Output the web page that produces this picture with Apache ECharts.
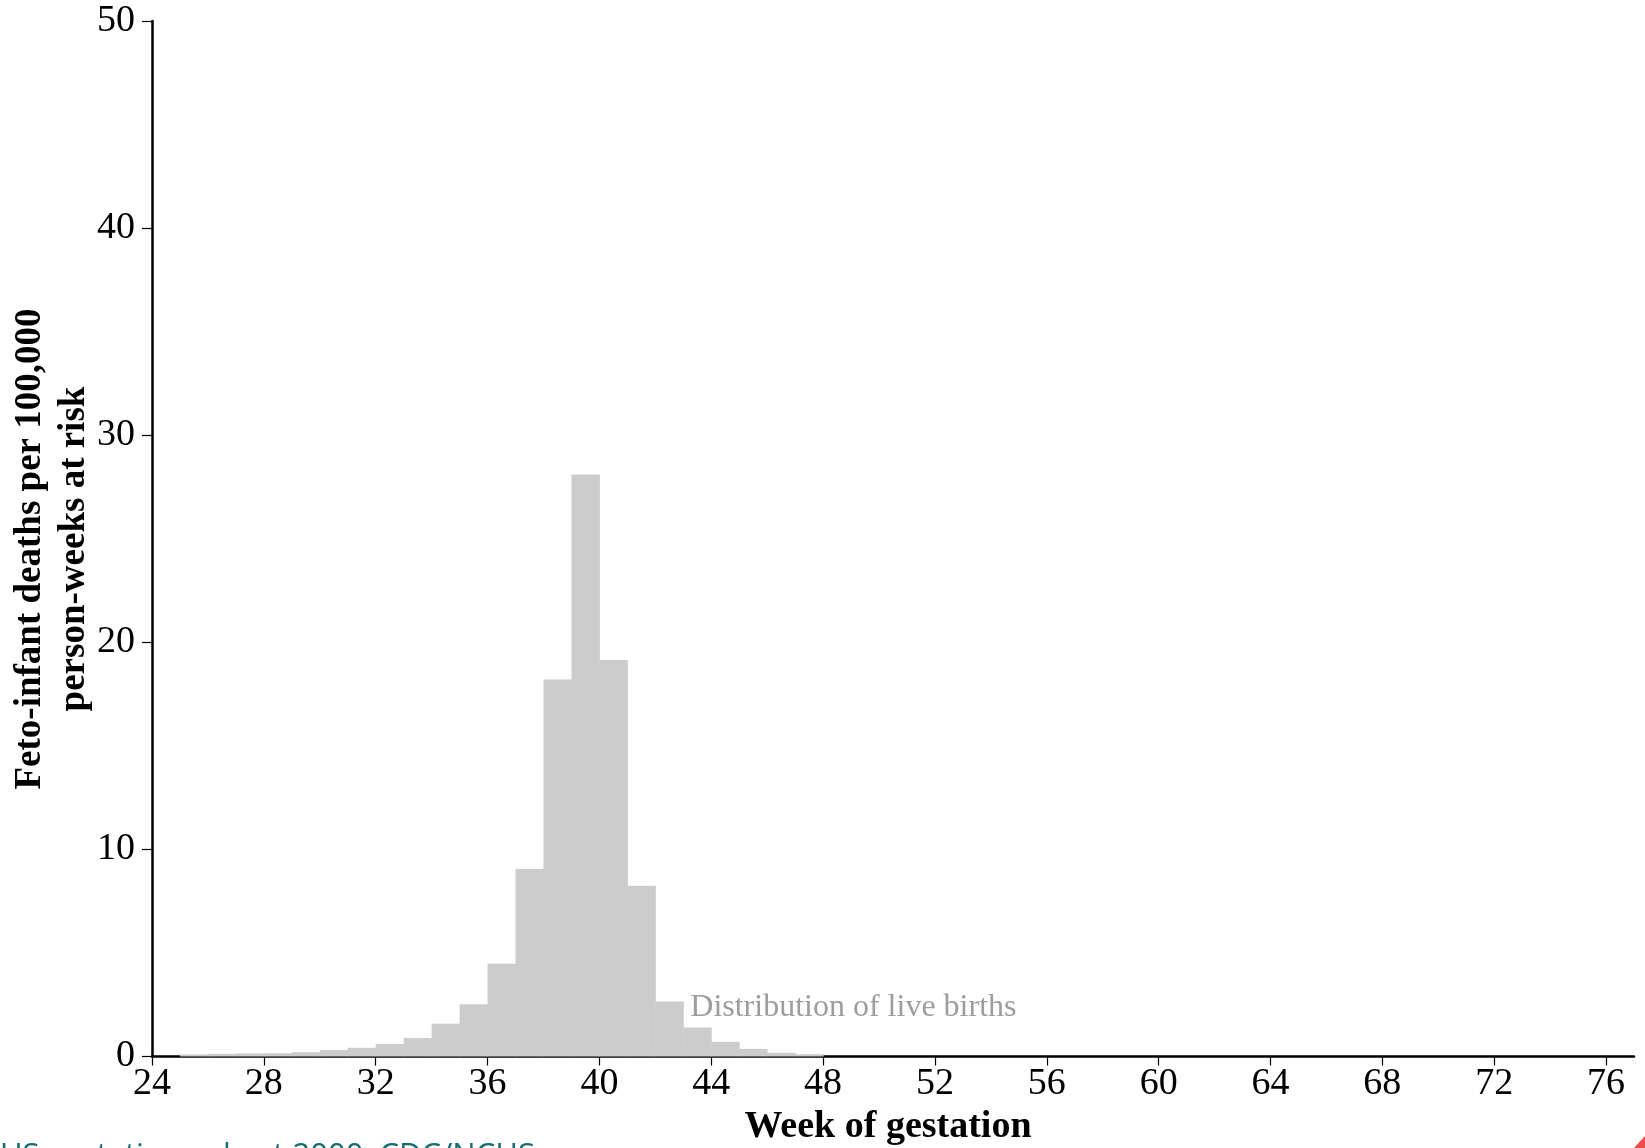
<!DOCTYPE html>
<html>
<head>
<meta charset="utf-8">
<script src="https://cdn.jsdelivr.net/npm/echarts@6/dist/echarts.min.js"></script>
<style>
html,body{margin:0;padding:0;background:#fff;}
#chart{width:1645px;height:1148px;}
</style>
</head>
<body>
<div id="chart"></div>
<script>
// Week of gestation at which each bin starts (bins are one week wide)
const weekStarts = [25,26,27,28,29,30,31,32,33,34,35,36,37,38,39,40,41,42,43,44,45,46,47];
// Distribution of live births (height per bin)
const birthValues = [0.10,0.13,0.15,0.16,0.21,0.31,0.42,0.60,0.89,1.58,2.52,4.48,9.05,18.2,28.1,19.15,8.25,2.66,1.40,0.71,0.37,0.18,0.11];
const xTicks = [24,28,32,36,40,44,48,52,56,60,64,68,72,76];
const yTicks = [0,10,20,30,40,50];
const annotation = {x: 43.25, y: 2.35, text: 'Distribution of live births'};
const xTitle = 'Week of gestation';
const yTitleLines = ['Feto-infant deaths per 100,000', 'person-weeks at risk'];
const sourceText = 'US gestation cohort 2000, CDC/NCHS';

const serif = '"Liberation Serif","Times New Roman",serif';
const chart = echarts.init(document.getElementById('chart'));
const binData = weekStarts.map((w, i) => [w, birthValues[i]]);

chart.setOption({
  animation: false,
  backgroundColor: '#ffffff',
  grid: {left: 152, right: 11, top: 21, bottom: 91.5, containLabel: false},
  xAxis: {
    type: 'value', min: 24, max: 77, interval: 4,
    axisLine: {show: true, lineStyle: {color: '#000', width: 2.5}},
    axisTick: {show: true, length: 9, lineStyle: {color: '#000', width: 1.2}, customValues: xTicks},
    axisLabel: {fontFamily: serif, fontSize: 38, color: '#000', margin: 9, customValues: xTicks},
    splitLine: {show: false}
  },
  yAxis: {
    type: 'value', min: 0, max: 50, interval: 10,
    axisLine: {show: true, lineStyle: {color: '#000', width: 2.5}},
    axisTick: {show: true, length: 10, lineStyle: {color: '#000', width: 1.2}, customValues: yTicks},
    axisLabel: {fontFamily: serif, fontSize: 38, color: '#000', margin: 17, customValues: yTicks},
    splitLine: {show: false}
  },
  series: [
    {
      type: 'custom',
      data: binData,
      encode: {x: 0, y: 1},
      renderItem: function (params, api) {
        const x0 = api.value(0), v = api.value(1);
        const p0 = api.coord([x0, v]);
        const p1 = api.coord([x0 + 1, 0]);
        return {
          type: 'rect',
          shape: {x: p0[0], y: p0[1], width: p1[0] - p0[0] + 0.5, height: p1[1] - p0[1]},
          style: {fill: '#cccccc', stroke: null}
        };
      },
      z: 1
    },
    {
      type: 'scatter',
      data: [[annotation.x, annotation.y]],
      symbolSize: 0,
      silent: true,
      label: {
        show: true, position: 'right', distance: 0,
        formatter: annotation.text,
        fontFamily: serif, fontSize: 32, color: '#858585'
      }
    }
  ],
  graphic: [
    {
      type: 'text',
      x: 52, y: 549,
      rotation: Math.PI / 2,
      style: {
        text: yTitleLines.join('\n'),
        fontFamily: serif, fontWeight: 'bold', fontSize: 37, lineHeight: 44,
        fill: '#000', align: 'center', verticalAlign: 'middle'
      }
    },
    {
      type: 'text',
      x: 888, y: 1127,
      style: {
        text: xTitle,
        fontFamily: serif, fontWeight: 'bold', fontSize: 38,
        fill: '#000', align: 'center', verticalAlign: 'middle'
      }
    },
    {
      type: 'text',
      left: 0, top: 1141,
      style: {
        text: sourceText,
        fontFamily: '"Open Sans", "Noto Sans", sans-serif', fontSize: 31,
        fill: '#176d74'
      }
    },
    {
      type: 'polygon',
      shape: {points: [[1645, 1136], [1645, 1148], [1634, 1148]]},
      style: {fill: '#f04b4b'}
    }
  ]
});
</script>
</body>
</html>
